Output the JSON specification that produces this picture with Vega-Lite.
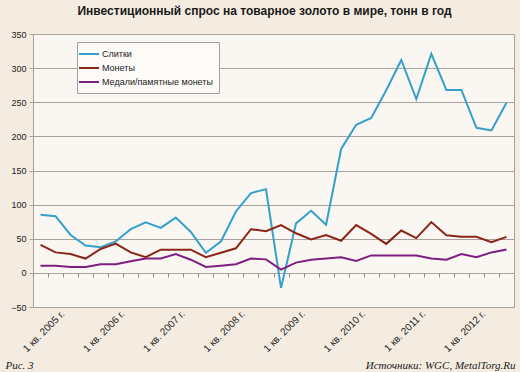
{
  "$schema": "https://vega.github.io/schema/vega-lite/v6.json",
  "autosize": {"type": "none"},
  "width": 481,
  "height": 273,
  "padding": {"left": 33, "top": 34, "right": 6, "bottom": 65},
  "background": "#F4ECE1",
  "title": {
    "text": "Инвестиционный спрос на товарное золото в мире, тонн в год",
    "font": "Liberation Sans",
    "fontSize": 12,
    "fontWeight": "bold",
    "color": "#1a1a1a",
    "anchor": "middle",
    "frame": "group",
    "dx": -9,
    "offset": 12
  },
  "config": {
    "view": {"fill": "#FAF6F1", "stroke": "#A8A29C", "strokeWidth": 1}
  },
  "data": {
    "values": [
      {"q": "1 кв. 2005 г.", "Слитки": 85, "Монеты": 41, "Медали/памятные монеты": 10.6},
      {"q": "2 кв. 2005 г.", "Слитки": 83, "Монеты": 30, "Медали/памятные монеты": 10.6},
      {"q": "3 кв. 2005 г.", "Слитки": 55.5, "Монеты": 27.5, "Медали/памятные монеты": 8.7},
      {"q": "4 кв. 2005 г.", "Слитки": 40, "Монеты": 21, "Медали/памятные монеты": 8.7},
      {"q": "1 кв. 2006 г.", "Слитки": 37.7, "Монеты": 35, "Медали/памятные монеты": 12.6},
      {"q": "2 кв. 2006 г.", "Слитки": 46, "Монеты": 43, "Медали/памятные монеты": 12.6},
      {"q": "3 кв. 2006 г.", "Слитки": 64, "Монеты": 30, "Медали/памятные монеты": 17},
      {"q": "4 кв. 2006 г.", "Слитки": 74, "Монеты": 23, "Медали/памятные монеты": 21},
      {"q": "1 кв. 2007 г.", "Слитки": 66, "Монеты": 34, "Медали/памятные монеты": 21},
      {"q": "2 кв. 2007 г.", "Слитки": 81, "Монеты": 34, "Медали/памятные монеты": 27.5},
      {"q": "3 кв. 2007 г.", "Слитки": 60, "Монеты": 34, "Медали/памятные монеты": 19.3},
      {"q": "4 кв. 2007 г.", "Слитки": 29.5, "Монеты": 23, "Медали/памятные монеты": 8.7},
      {"q": "1 кв. 2008 г.", "Слитки": 46, "Монеты": 29.5, "Медали/памятные монеты": 10.6},
      {"q": "2 кв. 2008 г.", "Слитки": 90, "Монеты": 36, "Медали/памятные монеты": 12.6},
      {"q": "3 кв. 2008 г.", "Слитки": 117, "Монеты": 64, "Медали/памятные монеты": 21},
      {"q": "4 кв. 2008 г.", "Слитки": 122.7, "Монеты": 61, "Медали/памятные монеты": 19.8},
      {"q": "1 кв. 2009 г.", "Слитки": -22, "Монеты": 70, "Медали/памятные монеты": 4.8},
      {"q": "2 кв. 2009 г.", "Слитки": 72.5, "Монеты": 58, "Медали/памятные монеты": 15},
      {"q": "3 кв. 2009 г.", "Слитки": 91, "Монеты": 49, "Медали/памятные монеты": 19.3},
      {"q": "4 кв. 2009 г.", "Слитки": 70.5, "Монеты": 55.5, "Медали/памятные монеты": 21},
      {"q": "1 кв. 2010 г.", "Слитки": 181.6, "Монеты": 47, "Медали/памятные монеты": 23},
      {"q": "2 кв. 2010 г.", "Слитки": 217, "Монеты": 70, "Медали/памятные монеты": 17.4},
      {"q": "3 кв. 2010 г.", "Слитки": 227, "Монеты": 57, "Медали/памятные монеты": 25.6},
      {"q": "4 кв. 2010 г.", "Слитки": 267.6, "Монеты": 42.5, "Медали/памятные монеты": 25.6},
      {"q": "1 кв. 2011 г.", "Слитки": 312, "Монеты": 62, "Медали/памятные монеты": 25.6},
      {"q": "2 кв. 2011 г.", "Слитки": 254.6, "Монеты": 51, "Медали/памятные монеты": 25.6},
      {"q": "3 кв. 2011 г.", "Слитки": 320.8, "Монеты": 74.4, "Медали/памятные монеты": 21},
      {"q": "4 кв. 2011 г.", "Слитки": 268, "Монеты": 55, "Медали/памятные монеты": 19.3},
      {"q": "1 кв. 2012 г.", "Слитки": 268, "Монеты": 53, "Медали/памятные монеты": 27.5},
      {"q": "2 кв. 2012 г.", "Слитки": 212.6, "Монеты": 53, "Медали/памятные монеты": 23},
      {"q": "3 кв. 2012 г.", "Слитки": 208.7, "Монеты": 45, "Медали/памятные монеты": 30},
      {"q": "4 кв. 2012 г.", "Слитки": 249.3, "Монеты": 52.7, "Медали/памятные монеты": 34.3}
    ]
  },
  "transform": [
    {"fold": ["Слитки", "Монеты", "Медали/памятные монеты"], "as": ["s", "v"]}
  ],
  "mark": {"type": "line", "strokeWidth": 2},
  "encoding": {
    "x": {
      "field": "q",
      "type": "ordinal",
      "sort": null,
      "scale": {"type": "point", "padding": 0.5},
      "axis": {
        "orient": "bottom",
        "offset": -34,
        "title": "Источники: WGC, MetalTorg.Ru",
        "titleFont": "Liberation Serif",
        "titleFontStyle": "italic",
        "titleFontWeight": "normal",
        "titleFontSize": 11,
        "titleColor": "#1a1a1a",
        "titleAlign": "right",
        "titleAnchor": "end",
        "titleX": 482,
        "titleY": 95,
        "titleBaseline": "alphabetic",
        "labelExpr": "indexof(datum.label, '1 кв.') === 0 ? datum.label : ''",
        "labelAngle": -45,
        "labelAlign": "right",
        "labelBaseline": "middle",
        "labelOffset": 29.5,
        "labelPadding": 35,
        "labelFont": "Liberation Sans",
        "labelFontSize": 10,
        "labelColor": "#222222",
        "labelOverlap": false,
        "labelBound": false,
        "labelFlush": false,
        "ticks": true,
        "tickColor": "#8F8A85",
        "tickWidth": 1,
        "tickOffset": -7.5,
        "tickSize": 4,
        "encode": {
          "ticks": {
            "update": {
              "y2": {"signal": "indexof(datum.value, '1 кв.') === 0 ? 8 : 4"}
            }
          }
        },
        "domain": true,
        "domainColor": "#A8A29C",
        "grid": false
      }
    },
    "y": {
      "field": "v",
      "type": "quantitative",
      "scale": {"domain": [-50, 350], "nice": false, "zero": false},
      "axis": {
        "title": "Рис. 3",
        "titleAngle": 0,
        "titleAlign": "left",
        "titleBaseline": "alphabetic",
        "titleX": -28,
        "titleY": 334,
        "titleFont": "Liberation Serif",
        "titleFontStyle": "italic",
        "titleFontWeight": "normal",
        "titleFontSize": 11,
        "titleColor": "#1a1a1a",
        "values": [-50, 0, 50, 100, 150, 200, 250, 300, 350],
        "labelOverlap": false,
        "grid": true,
        "gridColor": "#A8A29C",
        "gridOpacity": 1,
        "domain": false,
        "tickSize": 4,
        "tickColor": "#A8A29C",
        "labelPadding": 3,
        "labelFont": "Liberation Sans",
        "labelFontSize": 9,
        "labelColor": "#222222"
      }
    },
    "color": {
      "field": "s",
      "type": "nominal",
      "sort": ["Слитки", "Монеты", "Медали/памятные монеты"],
      "scale": {
        "domain": ["Слитки", "Монеты", "Медали/памятные монеты"],
        "range": ["#35A0CB", "#8B2518", "#7D1F80"]
      },
      "legend": {
        "title": null,
        "orient": "none",
        "legendX": 44,
        "legendY": 8,
        "fillColor": "#FDFBF8",
        "strokeColor": "#A0A0A0",
        "padding": 6,
        "symbolType": "M-2,0H2",
        "symbolSize": 100,
        "symbolStrokeWidth": 2,
        "labelFont": "Liberation Sans",
        "labelFontSize": 9,
        "labelColor": "#222222",
        "labelOffset": 7,
        "rowPadding": 3
      }
    }
  }
}
